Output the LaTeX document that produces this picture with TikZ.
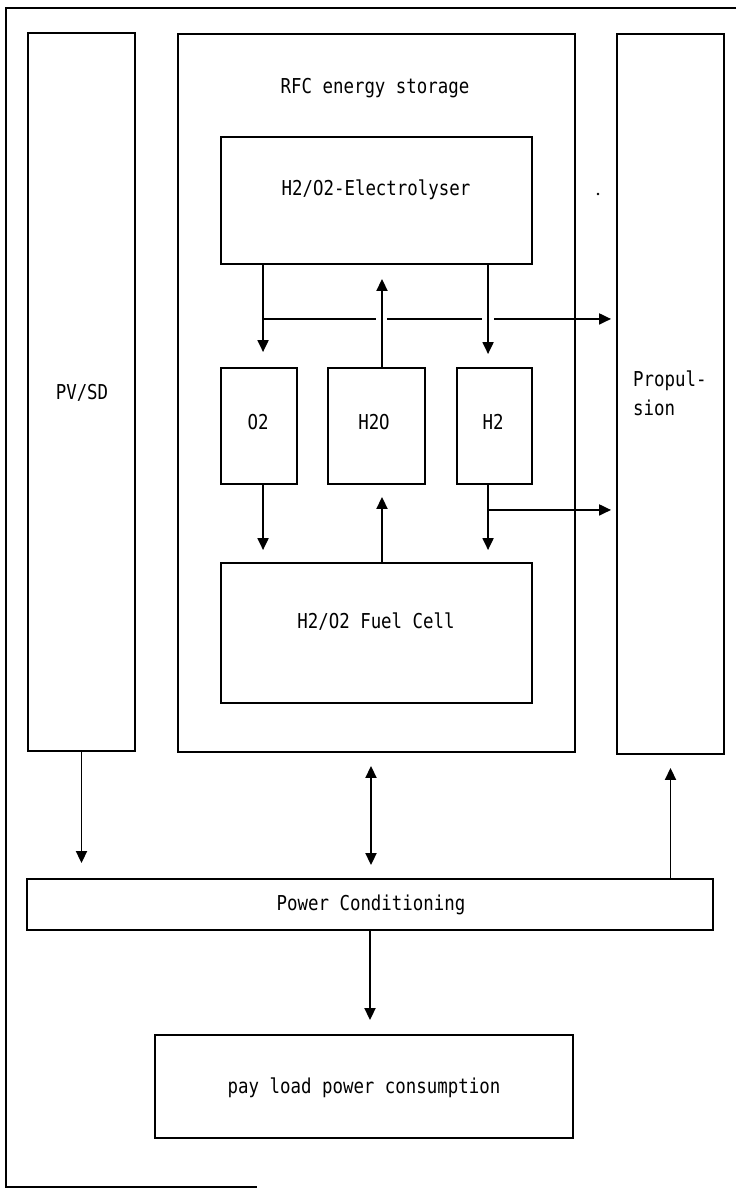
\documentclass[tikz,border=0pt]{standalone}
\usepackage{fontspec}
\newfontfamily\dm[FakeStretch=0.85]{DejaVu Sans Mono}
\usetikzlibrary{arrows.meta,calc}
\begin{document}
\begin{tikzpicture}[x=1pt,y=-1pt,
  box/.style={draw,line width=1.9pt,inner sep=0pt},
  txt/.style={font=\dm\fontsize{20.5}{29}\selectfont,inner sep=0pt},
  conn/.style={line width=1.9pt},
  arr/.style={conn,-{Triangle[length=12pt,width=11pt]}},
  darr/.style={conn,{Triangle[length=12pt,width=11pt]}-{Triangle[length=12pt,width=11pt]}}]
\useasboundingbox (0,0) rectangle (736,1188);
% outer frame
\draw[line width=1.9pt] (736,8) -- (6,8) -- (6,1187) -- (257,1187);
% main blocks
\node[box,minimum width=107pt,minimum height=718pt] (pv) at (81.5,392) {};
\node[box,minimum width=397pt,minimum height=718pt] (rfc) at (376.5,393) {};
\node[box,minimum width=107pt,minimum height=720pt] (prop) at (670.5,394) {};
\node[box,minimum width=311pt,minimum height=127pt] (elec) at (376.5,200.5) {};
\node[box,minimum width=76pt,minimum height=116pt] (o2) at (259,426) {};
\node[box,minimum width=97pt,minimum height=116pt] (h2o) at (376.5,426) {};
\node[box,minimum width=75pt,minimum height=116pt] (h2) at (494.5,426) {};
\node[box,minimum width=311pt,minimum height=140pt] (fc) at (376.5,633) {};
\node[box,minimum width=686pt,minimum height=51pt] (pc) at (370,904.5) {};
\node[box,minimum width=418pt,minimum height=103pt] (pl) at (364,1086.5) {};
% texts
\node[txt] (tpv) at (82,393) {PV/SD};
\node[txt] (trfc) at (375,88) {RFC energy storage};
\node[txt] (telec) at (376,190) {H2/O2-Electrolyser};
\node[txt,align=left,anchor=west] (tprop) at (633,393) {Propul-\\sion};
\node[txt] (to2) at (258,422) {O2};
\node[txt] (th2o) at (374,422) {H2O};
\node[txt] (th2) at (493,422) {H2};
\node[txt] (tfc) at (376,622) {H2/O2 Fuel Cell};
\node[txt] (tpc) at (371,905) {Power Conditioning};
\node[txt] (tpl) at (364,1088) {pay load power consumption};
% speck
\fill (598,194) circle (1.4pt);
% connection helpers
\coordinate (j1) at ($(elec.south west)+(43,0)$);
\coordinate (j2) at ($(elec.south west)+(268,0)$);
% electrolyser outputs
\draw[arr] (j1) -- ($(o2.north -| j1)+(0,-15)$);
\draw[arr] (j2) -- ($(h2.north -| j2)+(0,-13)$);
\draw[arr] ($(h2o.north)+(5.5,0)$) -- ($(elec.south)+(5.5,14)$);
% horizontal to propulsion (with gaps at crossings)
\coordinate (hA) at ($(j1)+(0,54)$);
\draw[conn] (hA) -- ++(113,0);
\draw[conn] ($(hA)+(124,0)$) -- ++(95,0);
\draw[arr] ($(hA)+(231,0)$) -- ($(prop.west |- hA)+(-5,0)$);
% to fuel cell
\draw[arr] (o2.south -| j1) -- ($(fc.north -| j1)+(0,-12)$);
\draw[arr] (h2.south -| j2) -- ($(fc.north -| j2)+(0,-12)$);
\draw[arr] ($(fc.north)+(5.5,0)$) -- ($(h2o.south)+(5.5,12)$);
\coordinate (hB) at ($(h2.south -| j2)+(0,25)$);
\draw[arr] (hB) -- ($(prop.west |- hB)+(-5,0)$);
% bottom connections
\draw[arr] (pv.south) -- ($(pc.north -| pv.south)+(0,-15)$);
\draw[darr] ($(rfc.south -| pc.north)+(1,13)$) -- ($(pc.north)+(1,-13)$);
\draw[arr] (pc.north -| prop.south) -- ($(prop.south)+(0,13)$);
\draw[arr] (pc.south) -- ($(pl.north -| pc.south)+(0,-14)$);
\end{tikzpicture}
\end{document}
